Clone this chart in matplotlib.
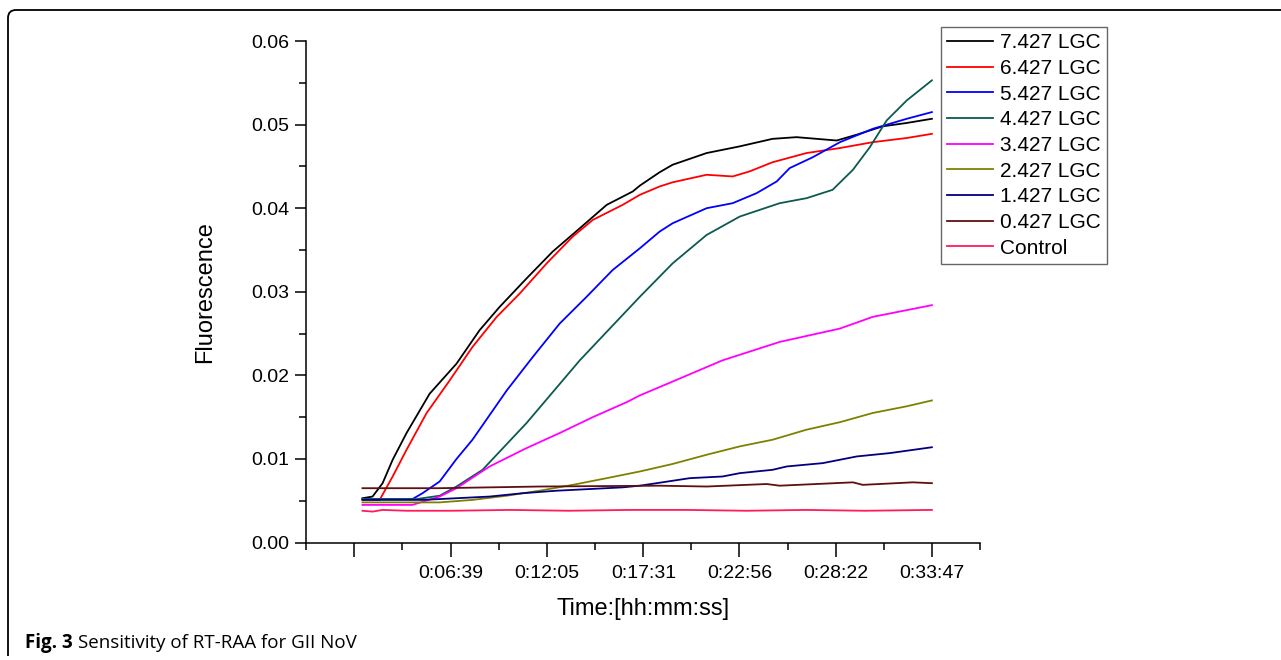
# RT-RAA sensitivity curves for GII NoV (fluorescence vs time)
import matplotlib
matplotlib.use("Agg")
import matplotlib.pyplot as plt
from matplotlib.path import Path
from matplotlib.patches import PathPatch
from matplotlib.ticker import MultipleLocator, FormatStrFormatter

plt.rcParams['font.family'] = ['Liberation Sans', 'DejaVu Sans']

# time in seconds, fluorescence values
t_7 = [101, 135, 169, 203, 250, 328, 419, 497, 565, 656, 744, 836, 927, 1015, 1039, 1106, 1150,
       1265, 1377, 1488, 1569, 1637, 1705, 1773, 1861, 1942, 2027]
f_7 = [0.0053, 0.0055, 0.0071, 0.0099, 0.0131, 0.0178, 0.0214, 0.0254, 0.0282, 0.0316, 0.0348, 0.0376,
       0.0404, 0.0420, 0.0427, 0.0443, 0.0452, 0.0466, 0.0474, 0.0483, 0.0485, 0.0483, 0.0481, 0.0488,
       0.0498, 0.0502, 0.0507]

t_6 = [101, 159, 203, 250, 318, 396, 473, 555, 633, 724, 812, 880, 981, 1039, 1106, 1150, 1265,
       1353, 1410, 1488, 1603, 1716, 1827, 1942, 2027]
f_6 = [0.0051, 0.0051, 0.0079, 0.0111, 0.0155, 0.0194, 0.0234, 0.0270, 0.0298, 0.0334, 0.0366, 0.0386,
       0.0404, 0.0416, 0.0426, 0.0431, 0.0440, 0.0438, 0.0444, 0.0455, 0.0466, 0.0472, 0.0479, 0.0484,
       0.0489]

t_5 = [101, 270, 304, 362, 419, 473, 589, 677, 768, 859, 947, 1039, 1106, 1150, 1265, 1353, 1434,
       1502, 1546, 1624, 1716, 1827, 1942, 2027]
f_5 = [0.0052, 0.0052, 0.0059, 0.0073, 0.0100, 0.0123, 0.0182, 0.0222, 0.0262, 0.0294, 0.0326, 0.0352,
       0.0372, 0.0382, 0.0400, 0.0406, 0.0418, 0.0432, 0.0448, 0.0461, 0.0479, 0.0495, 0.0507, 0.0515]

t_4 = [101, 284, 362, 419, 507, 656, 836, 1039, 1150, 1265, 1377, 1512, 1603, 1691, 1760, 1817,
       1874, 1942, 2027]
f_4 = [0.0052, 0.0052, 0.0056, 0.0067, 0.0087, 0.0143, 0.0218, 0.0294, 0.0334, 0.0368, 0.0390, 0.0406,
       0.0412, 0.0422, 0.0446, 0.0473, 0.0505, 0.0529, 0.0553]

t_3 = [101, 270, 362, 419, 531, 656, 768, 880, 995, 1039, 1106, 1319, 1512, 1716, 1827, 2027]
f_3 = [0.0045, 0.0045, 0.0055, 0.0065, 0.0091, 0.0113, 0.0131, 0.0150, 0.0168, 0.0176, 0.0186, 0.0218,
       0.0240, 0.0256, 0.0270, 0.0284]

t_2 = [101, 362, 473, 589, 700, 812, 927, 1039, 1150, 1265, 1377, 1488, 1603, 1716, 1827, 1942, 2027]
f_2 = [0.0048, 0.0048, 0.0051, 0.0056, 0.0062, 0.0069, 0.0077, 0.0085, 0.0094, 0.0105, 0.0115, 0.0123,
       0.0135, 0.0144, 0.0155, 0.0163, 0.0170]

t_1 = [101, 304, 419, 531, 643, 758, 870, 981, 1039, 1096, 1208, 1319, 1377, 1488, 1536, 1658, 1773,
       1885, 2027]
f_1 = [0.0051, 0.0051, 0.0053, 0.0055, 0.0059, 0.0062, 0.0064, 0.0066, 0.0068, 0.0071, 0.0077, 0.0079,
       0.0083, 0.0087, 0.0091, 0.0095, 0.0103, 0.0107, 0.0114]

t_0 = [101, 362, 700, 1106, 1265, 1468, 1512, 1760, 1793, 1962, 2027]
f_0 = [0.0065, 0.0065, 0.0067, 0.0068, 0.0067, 0.0070, 0.0068, 0.0072, 0.0069, 0.0072, 0.0071]

t_c = [101, 135, 169, 250, 400, 600, 800, 1000, 1200, 1400, 1600, 1800, 2027]
f_c = [0.0038, 0.0037, 0.0039, 0.0038, 0.0038, 0.0039, 0.0038, 0.0039, 0.0039, 0.0038, 0.0039, 0.0038,
       0.0039]

labels = ['7.427 LGC', '6.427 LGC', '5.427 LGC', '4.427 LGC', '3.427 LGC',
          '2.427 LGC', '1.427 LGC', '0.427 LGC', 'Control']
colors = ['black', '#ff0000', '#0000ff', '#0b5a50', '#ff00ff',
          '#808000', '#000080', '#5c1010', '#ff1a5c']
times = [t_7, t_6, t_5, t_4, t_3, t_2, t_1, t_0, t_c]
values = [f_7, f_6, f_5, f_4, f_3, f_2, f_1, f_0, f_c]

tick_sec = [73, 399, 725, 1051, 1376, 1702, 2027]
tick_lab = ['', '0:06:39', '0:12:05', '0:17:31', '0:22:56', '0:28:22', '0:33:47']
minor_sec = [-90, 236, 562, 888, 1213, 1539, 1865, 2190]

W, H = 1281, 660
fig = plt.figure(figsize=(W / 100, H / 100), dpi=100)
ax = fig.add_axes([0.2389, 0.178, 0.5262, 0.7598])

for t, f, c, lab in zip(times, values, colors, labels):
    ax.plot(t, f, color=c, lw=1.3, label=lab)

ax.set_xlim(-90, 2190)
ax.set_ylim(0, 0.06)
ax.set_xticks(tick_sec)
ax.set_xticklabels(tick_lab)
ax.set_xticks(minor_sec, minor=True)
ax.yaxis.set_major_locator(MultipleLocator(0.01))
ax.yaxis.set_minor_locator(MultipleLocator(0.005))
ax.yaxis.set_major_formatter(FormatStrFormatter('%.2f'))

for s in ['top', 'right']:
    ax.spines[s].set_visible(False)
for s in ['left', 'bottom']:
    ax.spines[s].set_linewidth(1.1)
ax.tick_params(axis='both', which='major', direction='out', length=8, width=1.1,
               labelsize=14, colors='black', pad=4)
ax.tick_params(axis='both', which='minor', direction='out', length=5, width=1.1)
ax.tick_params(axis='x', which='major', length=10, pad=6)

ax.set_xlabel('Time:[hh:mm:ss]', fontsize=17, labelpad=12)
ax.set_ylabel('Fluorescence', fontsize=17, labelpad=25)

leg = fig.legend(loc='upper left', bbox_to_anchor=(941 / W, 1 - 27 / H),
                 fontsize=15, frameon=True, fancybox=False, edgecolor='#404040',
                 handlelength=2.2, handletextpad=0.35, labelspacing=0.32,
                 borderpad=0.3, borderaxespad=0)
leg.get_frame().set_linewidth(1.0)

# frame around the figure (open on the right and bottom)
r = 8
verts = [(8 / W, 4 / H), (8 / W, (H - 10 - r) / H),
         (8 / W, (H - 10) / H), ((8 + r) / W, (H - 10) / H), (1.0, (H - 10) / H)]
codes = [Path.MOVETO, Path.LINETO, Path.CURVE3, Path.CURVE3, Path.LINETO]
fig.patches.append(PathPatch(Path(verts, codes), transform=fig.transFigure,
                             fill=False, lw=1.3, edgecolor='black'))

# caption: bold "Fig. 3" followed by regular text
cap_font = ['Open Sans', 'DejaVu Sans']
t1 = fig.text(25 / W, 1 - 643 / H, 'Fig. 3', fontsize=13.5, fontweight='bold',
              va='center', ha='left', family=cap_font)
fig.canvas.draw()
bb = t1.get_window_extent()
fig.text((bb.x1 + 5) / W, 1 - 643 / H, 'Sensitivity of RT-RAA for GII NoV', fontsize=13.5,
         va='center', ha='left', family=cap_font)

fig.savefig('out.png', dpi=100)
